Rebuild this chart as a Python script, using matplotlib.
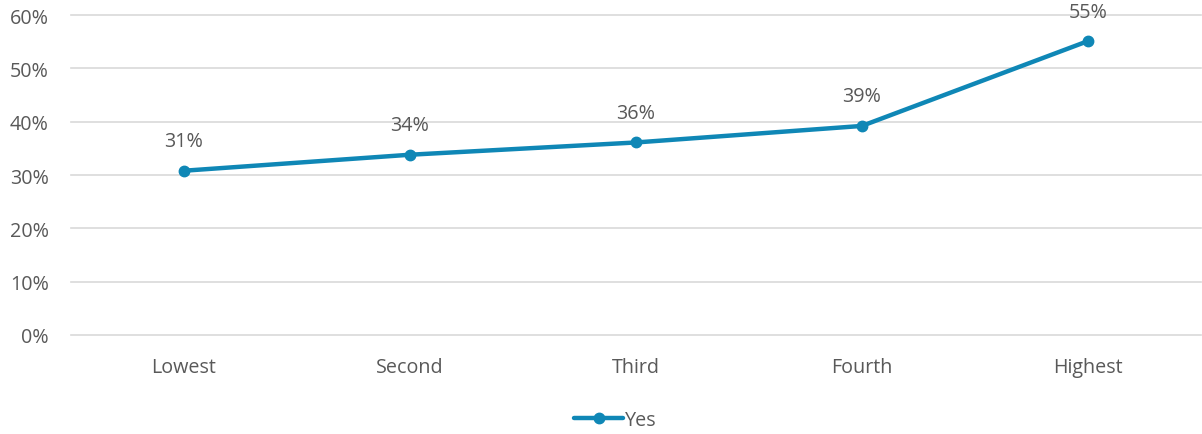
import matplotlib
matplotlib.use("Agg")
import matplotlib.pyplot as plt
from matplotlib.ticker import FuncFormatter

categories = ["Lowest", "Second", "Third", "Fourth", "Highest"]
yes_values = [0.308, 0.338, 0.361, 0.392, 0.551]
series_name = "Yes"

color = "#0F87B6"
text_color = "#595959"
plt.rcParams['font.family'] = ['Open Sans', 'DejaVu Sans']
fs = 14.2

fig = plt.figure(figsize=(12.02, 4.35), dpi=100)
ax = fig.add_axes([0.059, 0.2276, 0.94, 0.7356])

x = list(range(len(categories)))
ax.plot(x, yes_values, color=color, lw=3.2, marker='o', ms=7.5, label=series_name,
        solid_capstyle='round', zorder=3, clip_on=False)
for xi, v in zip(x, yes_values):
    ax.annotate(f"{v*100:.0f}%", (xi, v), xytext=(0, 14), textcoords='offset points',
                ha='center', va='bottom', fontsize=fs, color=text_color)

yticks = [0, 0.1, 0.2, 0.3, 0.4, 0.5, 0.6]
ax.set_xlim(-0.5, len(categories) - 0.5)
ax.set_ylim(0, 0.6)
ax.set_yticks(yticks)
ax.yaxis.set_major_formatter(FuncFormatter(lambda v, p: f"{v*100:.0f}%"))
ax.set_xticks(x)
ax.set_xticklabels(categories)
for t in yticks:
    ax.axhline(t, color='#D9D9D9', lw=1.2, zorder=1, clip_on=False)
for s in ax.spines.values():
    s.set_visible(False)
ax.tick_params(axis='both', length=0, labelsize=fs, labelcolor=text_color)
ax.tick_params(axis='x', pad=16)
ax.tick_params(axis='y', pad=16)

leg = fig.legend(loc='center', bbox_to_anchor=(0.512, 0.033), frameon=False,
                 fontsize=fs, handlelength=2.5, handletextpad=0.1, labelcolor=text_color)

fig.savefig("out.png", dpi=100)
